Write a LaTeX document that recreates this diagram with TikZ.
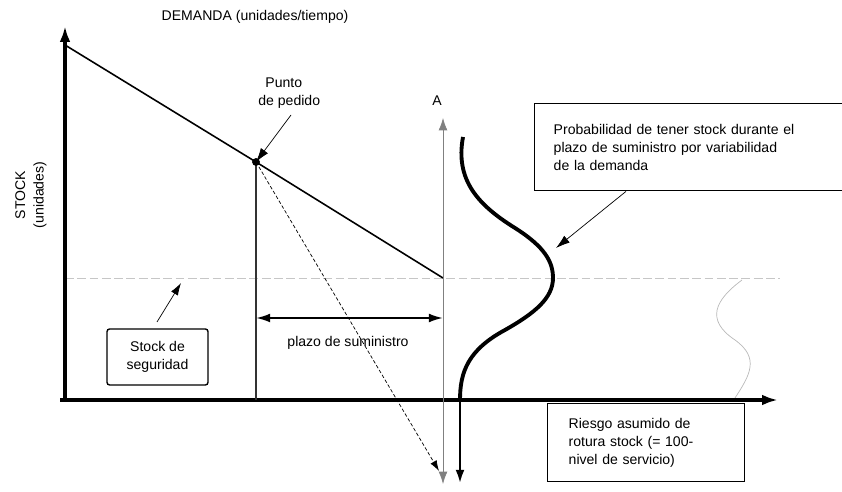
\documentclass[tikz,border=0pt]{standalone}
\usepackage{fontspec}
\setmainfont{Liberation Sans}
\usetikzlibrary{arrows.meta}

\tikzset{
  axis/.style={line width=2pt,-{Latex[length=9pt,width=6pt]}},
  tiny arrow/.style={thin,-{Latex[length=6pt,width=4pt]}},
  label/.style={font=\fontsize{8}{10.5}\selectfont,inner sep=0pt},
  textbox/.style={draw,line width=0.8pt,align=left,font=\fontsize{8}{10.3}\selectfont,inner sep=0pt},
}

\begin{document}
\begin{tikzpicture}[x=0.02cm,y=-0.02cm]
    \useasboundingbox (0,0) rectangle (842,492) ;
    % puntos
    \coordinate (O) at (65,400) ;
    \coordinate (ytop) at (65,26) ;
    \coordinate (xend) at (778,400) ;
    \coordinate (D0) at (65,45) ;
    \coordinate (P) at (256,162) ;
    \coordinate (P0) at (256,400) ;
    \coordinate (L) at (443,278) ;
    \coordinate (Ltop) at (443,118) ;
    \coordinate (Lbot) at (443,484) ;
    \coordinate (Ltip) at (439,471) ;
    \coordinate (Ptop) at (443,318) ;
    \coordinate (Pleft) at (256,318) ;
    \coordinate (Cbot) at (460,484) ;
    \coordinate (Cpeak) at (553,278) ;
    % lineas de fondo
    \draw[gray!45,dashed,dash pattern=on 5pt off 2pt] (65,278) -- (780,278) ;
    \draw[gray!55,thin] (742,280) .. controls (715,300) and (705,320) .. (735,340)
      .. controls (760,358) and (750,375) .. (735,398) ;
    % ejes
    \draw[axis] (O) -- (ytop) ;
    \draw[axis] (60,400) -- (xend) ;
    \node[label] (titulo) at (255,17) {DEMANDA (unidades/tiempo)} ;
    \node[label,rotate=90,align=center] (stock) at (31,195) {STOCK\\(unidades)} ;
    % demanda
    \draw[line width=0.9pt] (D0) -- (P) -- (L) ;
    \draw[line width=1.2pt,black!80] (P) -- (P0) ;
    \draw[fill] (P) circle (3.5) ;
    \draw[gray,thin,{Latex[length=7pt,width=5pt]}-{Latex[length=7pt,width=5pt]}] (Ltop) -- (Lbot) ;
    \node[label] (A) at (437,101) {A} ;
    \draw[dashed,dash pattern=on 2pt off 1.2pt,tiny arrow] (P) -- (Ltip) ;
    % plazo de suministro
    \draw[line width=1.1pt,{Latex[length=8pt,width=5pt]}-{Latex[length=8pt,width=5pt]}] (Pleft) -- (Ptop) ;
    \node[label] (plazo) at (348,343) {plazo de suministro} ;
    % curva de probabilidad
    \draw[line width=2.2pt] (463,137) .. controls (455,180) and (478,205) .. (515,228)
      .. controls (545,247) and (553,262) .. (Cpeak)
      .. controls (553,298) and (535,313) .. (505,330)
      .. controls (468,350) and (460,372) .. (460,400) ;
    \draw[line width=1.6pt,-{Latex[length=8pt,width=5pt]}] (460,398) -- (Cbot) ;
    % textos
    \node[label,anchor=west,align=left] (punto) at (258,93) {\hspace*{4pt}Punto\\de pedido} ;
    \coordinate (pa) at (291,115) ;
    \draw[thin,-{Latex[length=8pt,width=5pt]}] (pa) -- (P) ;
    \node[textbox,rounded corners=1.5pt,align=center,minimum width=101*0.02cm,minimum height=56*0.02cm] (seguridad) at (157.5,357) {Stock de\\seguridad} ;
    \coordinate (sa) at (157,322) ;
    \coordinate (sb) at (181,283) ;
    \draw[thin,-{Latex[length=7pt,width=4.5pt]}] (sa) -- (sb) ;
    \node[textbox,anchor=north west,text width=280*0.02cm,minimum height=87*0.02cm,inner xsep=19*0.02cm] (prob) at (534,103)
      {Probabilidad de tener stock durante el\\plazo de suministro por variabilidad\\de la demanda} ;
    \coordinate (pb) at (556,248) ;
    \path (prob.south west) ++(92,0) coordinate (pc) ;
    \draw[thin,-{Latex[length=8pt,width=5pt]}] (pc) -- (pb) ;
    \node[textbox,anchor=north west,text width=155*0.02cm,minimum height=78*0.02cm,inner xsep=21*0.02cm] (riesgo) at (547,403)
      {Riesgo asumido de\\rotura stock (= 100-\\nivel de servicio)} ;
\end{tikzpicture}
\end{document}
